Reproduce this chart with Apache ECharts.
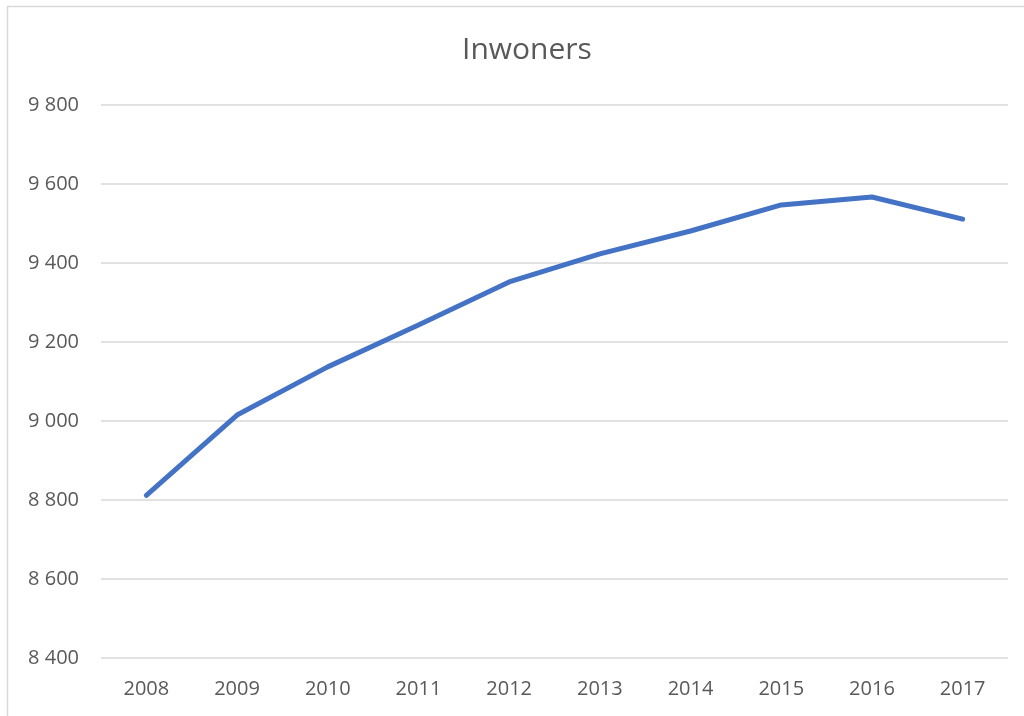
<!DOCTYPE html>
<html><head><meta charset="utf-8">
<script src="https://cdn.jsdelivr.net/npm/echarts@6/dist/echarts.min.js"></script>
<style>html,body{margin:0;padding:0;background:#fff}#c{width:1024px;height:716px}</style>
</head><body><div id="c"></div>
<script>
const years = ['2008','2009','2010','2011','2012','2013','2014','2015','2016','2017'];
const inwoners = [8812, 9015, 9137, 9243, 9352, 9423, 9481, 9547, 9567, 9511];
const yTicks = [8400, 8600, 8800, 9000, 9200, 9400, 9600, 9800];

const chart = echarts.init(document.getElementById('c'));
const font = '"Open Sans", Calibri, "Noto Sans", sans-serif';
chart.setOption({
  animation: false,
  textStyle: { fontFamily: font },
  graphic: [{
    type: 'rect', shape: { x: 7.5, y: 6.5, width: 1030, height: 730 },
    style: { fill: 'none', stroke: '#d9d9d9', lineWidth: 1.5 }, silent: true
  }],
  title: {
    text: 'Inwoners', left: 457, top: 30,
    textStyle: { fontFamily: font, fontSize: 30, fontWeight: 'normal', color: '#595959' }
  },
  grid: { left: 101, right: 16, top: 105, bottom: 58 },
  xAxis: {
    type: 'category', data: years, boundaryGap: true,
    axisLine: { show: false }, axisTick: { show: false },
    axisLabel: { color: '#595959', fontSize: 20, margin: 21, fontFamily: font }
  },
  yAxis: {
    type: 'value', min: yTicks[0], max: yTicks[yTicks.length - 1], interval: 200,
    axisLine: { show: false }, axisTick: { show: false },
    splitLine: { lineStyle: { color: '#d9d9d9', width: 1.5 } },
    axisLabel: {
      color: '#595959', fontSize: 20, margin: 22, fontFamily: font,
      formatter: v => String(v).replace(/\B(?=(\d{3})+(?!\d))/g, ' ')
    }
  },
  series: [{
    type: 'line', data: inwoners, symbol: 'none',
    lineStyle: { color: '#4472c4', width: 5, cap: 'round', join: 'round' }
  }]
});
</script></body></html>
